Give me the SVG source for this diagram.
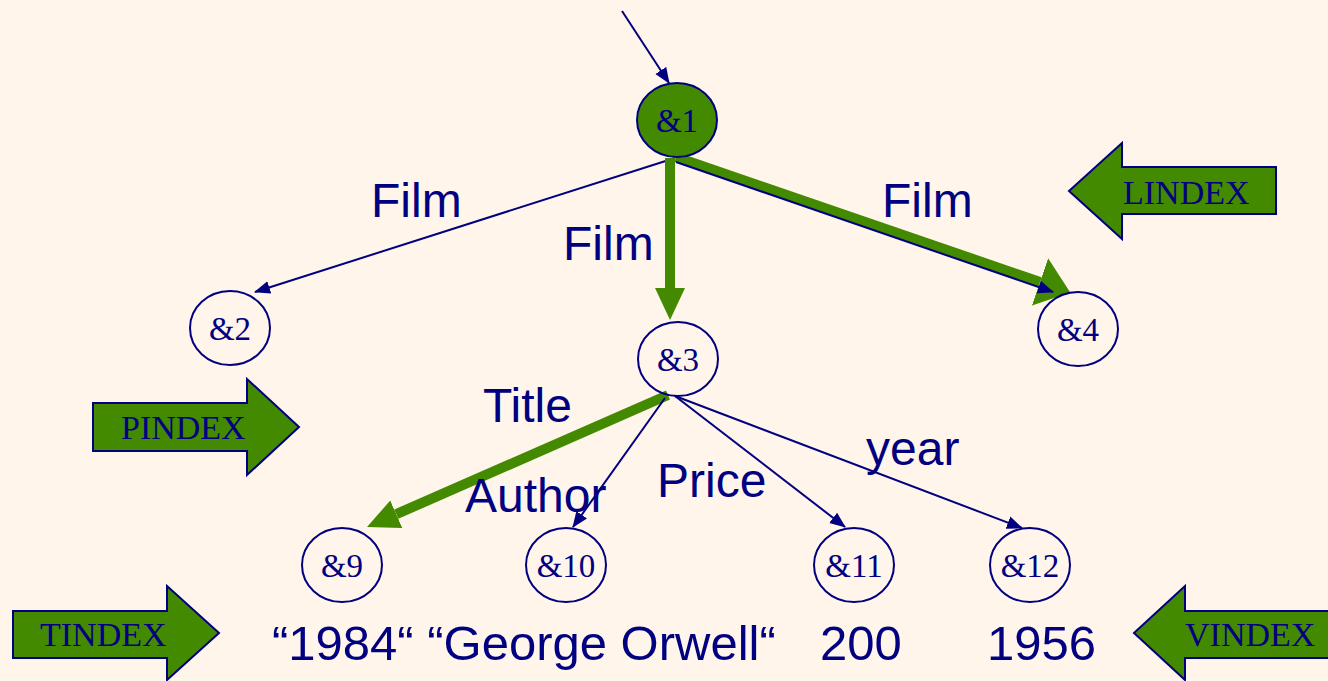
<svg xmlns="http://www.w3.org/2000/svg" width="1328" height="681" viewBox="0 0 1328 681">
<style>
.bg{fill:#FFF5EA}
.node{fill:none;stroke:#000080;stroke-width:2}
.root{fill:#438A00;stroke:#000080;stroke-width:2}
.nl{font-family:"Liberation Serif","Times New Roman",serif;font-size:33px;fill:#000080;text-anchor:middle}
.lbl{font-family:"Liberation Sans",Arial,sans-serif;font-size:48px;fill:#000080}
.val{font-family:"Liberation Sans",Arial,sans-serif;font-size:49px;fill:#000080}
.thin{stroke:#000080;stroke-width:2;fill:none;marker-end:url(#nav)}
.thick{stroke:#438A00;stroke-width:10;fill:none;marker-end:url(#grn)}
.blk{fill:#438A00;stroke:#000080;stroke-width:2}
.bl{font-family:"Liberation Serif","Times New Roman",serif;font-size:34px;fill:#000080}
</style>
<defs>
<marker id="nav" markerUnits="userSpaceOnUse" markerWidth="16" markerHeight="14" refX="15" refY="6.5" orient="auto" viewBox="0 0 16 13">
<path d="M0,0 L16,6.5 L0,13 z" fill="#000080"/>
</marker>
<marker id="grn" markerUnits="userSpaceOnUse" markerWidth="32" markerHeight="30" refX="0" refY="15" orient="auto" viewBox="0 0 32 30">
<path d="M0,0 L32,15 L0,30 z" fill="#438A00"/>
</marker>
<marker id="grnw" markerUnits="userSpaceOnUse" markerWidth="32" markerHeight="50" refX="0" refY="25" orient="auto" viewBox="0 0 32 50">
<path d="M0,0 L32,25 L0,50 z" fill="#438A00"/>
</marker>
</defs>
<rect class="bg" x="0" y="0" width="1328" height="681"/>
<g id="connectors">
<line class="thin" x1="622" y1="11" x2="669" y2="83"/>
<line class="thin" x1="675" y1="158" x2="255" y2="292"/>
<line class="thick" x1="670" y1="158" x2="670" y2="288"/>
<line class="thick" style="marker-end:url(#grnw)" x1="676" y1="157" x2="1040" y2="282"/>
<line class="thin" x1="676" y1="162" x2="1053" y2="292"/>
<line class="thick" x1="668" y1="395" x2="396.3" y2="514.2"/>
<line class="thin" x1="665" y1="398" x2="573" y2="527"/>
<line class="thin" x1="675" y1="396" x2="845" y2="527"/>
<line class="thin" x1="675" y1="396" x2="1022" y2="528"/>
</g>
<g id="edge-labels">
<text class="lbl" x="371" y="217">Film</text>
<text class="lbl" x="563" y="260">Film</text>
<text class="lbl" x="882" y="217">Film</text>
<text class="lbl" x="483" y="422">Title</text>
<text class="lbl" x="465" y="512">Author</text>
<text class="lbl" x="657" y="497">Price</text>
<text class="lbl" x="866" y="465">year</text>
</g>
<g id="n1"><ellipse class="root" cx="677" cy="120" rx="40" ry="37"/><text class="nl" x="677" y="132">&amp;1</text></g>
<g id="n2"><ellipse class="node" cx="230" cy="328" rx="40" ry="37"/><text class="nl" x="230" y="340">&amp;2</text></g>
<g id="n3"><ellipse class="node" cx="678" cy="359" rx="40" ry="37"/><text class="nl" x="678" y="371">&amp;3</text></g>
<g id="n4"><ellipse class="node" cx="1078" cy="329" rx="40" ry="37"/><text class="nl" x="1078" y="341">&amp;4</text></g>
<g id="n9"><ellipse class="node" cx="342" cy="565" rx="40" ry="37"/><text class="nl" x="342" y="577">&amp;9</text></g>
<g id="n10"><ellipse class="node" cx="566" cy="565" rx="40" ry="37"/><text class="nl" x="566" y="577">&amp;10</text></g>
<g id="n11"><ellipse class="node" cx="854" cy="565" rx="40" ry="37"/><text class="nl" x="854" y="577">&amp;11</text></g>
<g id="n12"><ellipse class="node" cx="1030" cy="565" rx="40" ry="37"/><text class="nl" x="1030" y="577">&amp;12</text></g>
<g id="values">
<text class="val" x="272" y="660">“1984“ “George Orwell“</text>
<text class="val" x="820" y="660">200</text>
<text class="val" x="987" y="660">1956</text>
</g>
<g id="lindex"><polygon class="blk" points="1069,191 1122,143 1122,167 1276,167 1276,214 1122,214 1122,239"/><text class="bl" x="1123" y="204">LINDEX</text></g>
<g id="pindex"><polygon class="blk" points="93,403 247,403 247,379 299,427 247,475 247,451 93,451"/><text class="bl" x="121" y="439">PINDEX</text></g>
<g id="tindex"><polygon class="blk" points="13,611 167,611 167,586 219,633 167,680 167,658 13,658"/><text class="bl" x="40" y="646">TINDEX</text></g>
<g id="vindex"><polygon class="blk" points="1134,633 1185,586 1185,611 1332,611 1332,658 1185,658 1185,680"/><text class="bl" x="1185" y="646">VINDEX</text></g>
</svg>
